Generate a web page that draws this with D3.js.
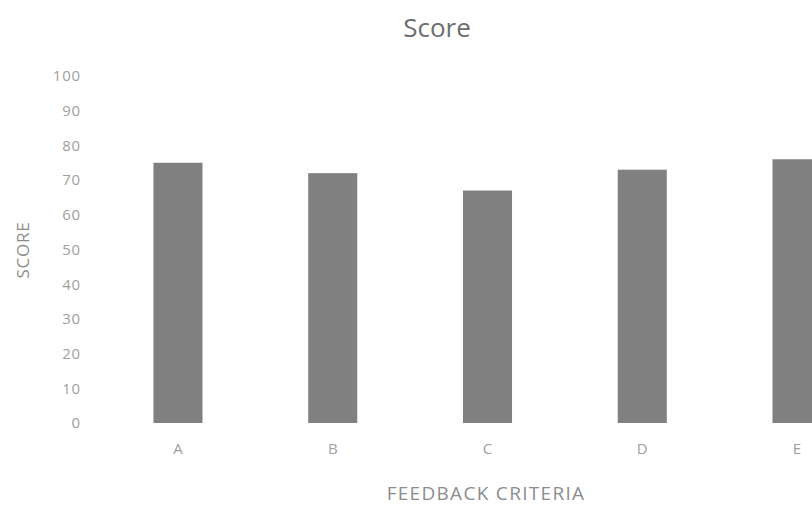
<!DOCTYPE html>
<html>
<head>
<meta charset="utf-8">
<script src="https://cdn.jsdelivr.net/npm/d3@7/dist/d3.min.js"></script>
<style>
  html, body { margin: 0; padding: 0; background: #ffffff; }
  svg { display: block; }
  text { font-family: "Open Sans", "Noto Sans", sans-serif; }
</style>
</head>
<body>
<svg id="chart" width="812" height="505"></svg>
<script>
const categories = ["A", "B", "C", "D", "E"];
const scores = [75, 72, 67, 73, 76];
const yTicks = [0, 10, 20, 30, 40, 50, 60, 70, 80, 90, 100];
const chartTitle = "Score";
const xTitle = "FEEDBACK CRITERIA";
const yTitle = "SCORE";

const svg = d3.select("#chart");

const x = d3.scaleBand().domain(categories).range([100.6, 874.4]).padding(0);
const y = d3.scaleLinear().domain([0, 100]).range([423, 76]);
const barFrac = 0.317;

// title
svg.append("text")
  .attr("x", 437).attr("y", 37)
  .attr("text-anchor", "middle")
  .attr("font-size", 26)
  .attr("fill", "#6e6e6e")
  .text(chartTitle);

// y axis
const yAxis = d3.axisLeft(y).tickValues(yTicks).tickSize(0).tickPadding(0);
const gy = svg.append("g").attr("transform", "translate(81,0)").call(yAxis);
gy.select(".domain").remove();
gy.selectAll("text")
  .attr("font-size", 15)
  .attr("letter-spacing", 0.8)
  .attr("fill", "#a0a0a0")
  .attr("font-family", "'Open Sans', sans-serif");

// x axis
const xAxis = d3.axisBottom(x).tickSize(0).tickPadding(0);
const gx = svg.append("g").attr("transform", "translate(0,443)").call(xAxis);
gx.select(".domain").remove();
gx.selectAll("text")
  .attr("font-size", 15)
  .attr("fill", "#a0a0a0")
  .attr("font-family", "'Open Sans', sans-serif");

// bars
svg.append("g").selectAll("rect")
  .data(categories.map((c, i) => ({ c, v: scores[i] })))
  .join("rect")
  .attr("x", d => x(d.c) + x.bandwidth() * (1 - barFrac) / 2)
  .attr("width", x.bandwidth() * barFrac)
  .attr("y", d => y(d.v))
  .attr("height", d => y(0) - y(d.v))
  .attr("fill", "#808080");

// axis titles
svg.append("text")
  .attr("x", 486).attr("y", 500)
  .attr("text-anchor", "middle")
  .attr("font-size", 19)
  .attr("letter-spacing", 1.3)
  .attr("fill", "#8c8c8c")
  .text(xTitle);

svg.append("text")
  .attr("transform", "translate(29,250) rotate(-90)")
  .attr("text-anchor", "middle")
  .attr("font-size", 17)
  .attr("letter-spacing", 0.8)
  .attr("fill", "#8c8c8c")
  .text(yTitle);
</script>
</body>
</html>
